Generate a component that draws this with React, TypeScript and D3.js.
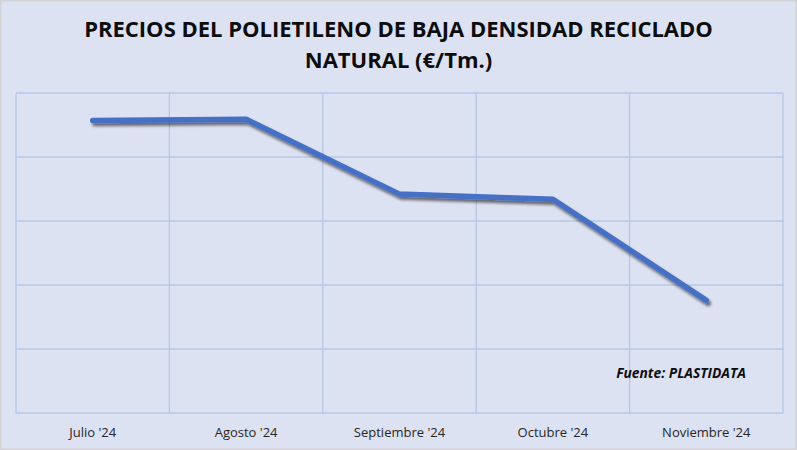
import * as d3 from "d3";

const months = ["Julio '24", "Agosto '24", "Septiembre '24", "Octubre '24", "Noviembre '24"];
const prices = [1257, 1259, 1142, 1134, 976];
const gridValues = [800, 900, 1000, 1100, 1200, 1300];
const titleLines = ["PRECIOS DEL POLIETILENO DE BAJA DENSIDAD RECICLADO", "NATURAL (€/Tm.)"];
const source = "Fuente: PLASTIDATA";

const W = 797;
const H = 450;
const font = "'Open Sans', sans-serif";

export default function App() {
  const x = d3.scaleBand<string>().domain(months).range([16, 783]).padding(0);
  const y = d3.scaleLinear().domain([800, 1300]).range([413, 93]);
  const line = d3
    .line<number>()
    .x((_, i) => (x(months[i]) ?? 0) + x.bandwidth() / 2)
    .y((d) => y(d));
  const bounds = [...months.map((m) => x(m) ?? 0), 783];

  return (
    <div style={{ position: "fixed", left: 0, top: 0 }}>
      <svg width={W} height={H} style={{ display: "block" }}>
        <defs>
          <filter id="shadow" x="-10%" y="-20%" width="120%" height="160%">
            <feGaussianBlur in="SourceAlpha" stdDeviation="1.5" />
            <feOffset dx="1.5" dy="2.5" result="off" />
            <feComponentTransfer>
              <feFuncA type="linear" slope="0.55" />
            </feComponentTransfer>
            <feMerge>
              <feMergeNode />
              <feMergeNode in="SourceGraphic" />
            </feMerge>
          </filter>
        </defs>
        <rect x={0.75} y={0.75} width={W - 1.5} height={H - 1.5} fill="#dde2f2" stroke="#d3d3d6" strokeWidth={1.5} />

        {titleLines.map((t, i) => (
          <text
            key={t}
            x={W / 2}
            y={37 + i * 31}
            textAnchor="middle"
            fontFamily={font}
            fontWeight="bold"
            fontSize={22}
            fill="#0d0d0d"
          >
            {t}
          </text>
        ))}

        <g stroke="#b4c7e7" strokeWidth={1.3}>
          {gridValues.map((v) => (
            <line key={v} x1={16} x2={783} y1={y(v)} y2={y(v)} />
          ))}
          {bounds.map((b, i) => (
            <line key={i} x1={b} x2={b} y1={y(1300)} y2={y(800)} />
          ))}
        </g>

        <path
          d={line(prices) ?? ""}
          fill="none"
          stroke="#4470c6"
          strokeWidth={5.5}
          strokeLinecap="round"
          strokeLinejoin="round"
          filter="url(#shadow)"
        />

        {months.map((m) => (
          <text
            key={m}
            x={(x(m) ?? 0) + x.bandwidth() / 2}
            y={437}
            textAnchor="middle"
            fontFamily={font}
            fontSize={13}
            fill="#262626"
          >
            {m}
          </text>
        ))}

        <text x={746} y={378} textAnchor="end" fontFamily={font} fontWeight="bold" fontStyle="italic" fontSize={13.8} fill="#0d0d0d">
          {source}
        </text>
      </svg>
    </div>
  );
}
